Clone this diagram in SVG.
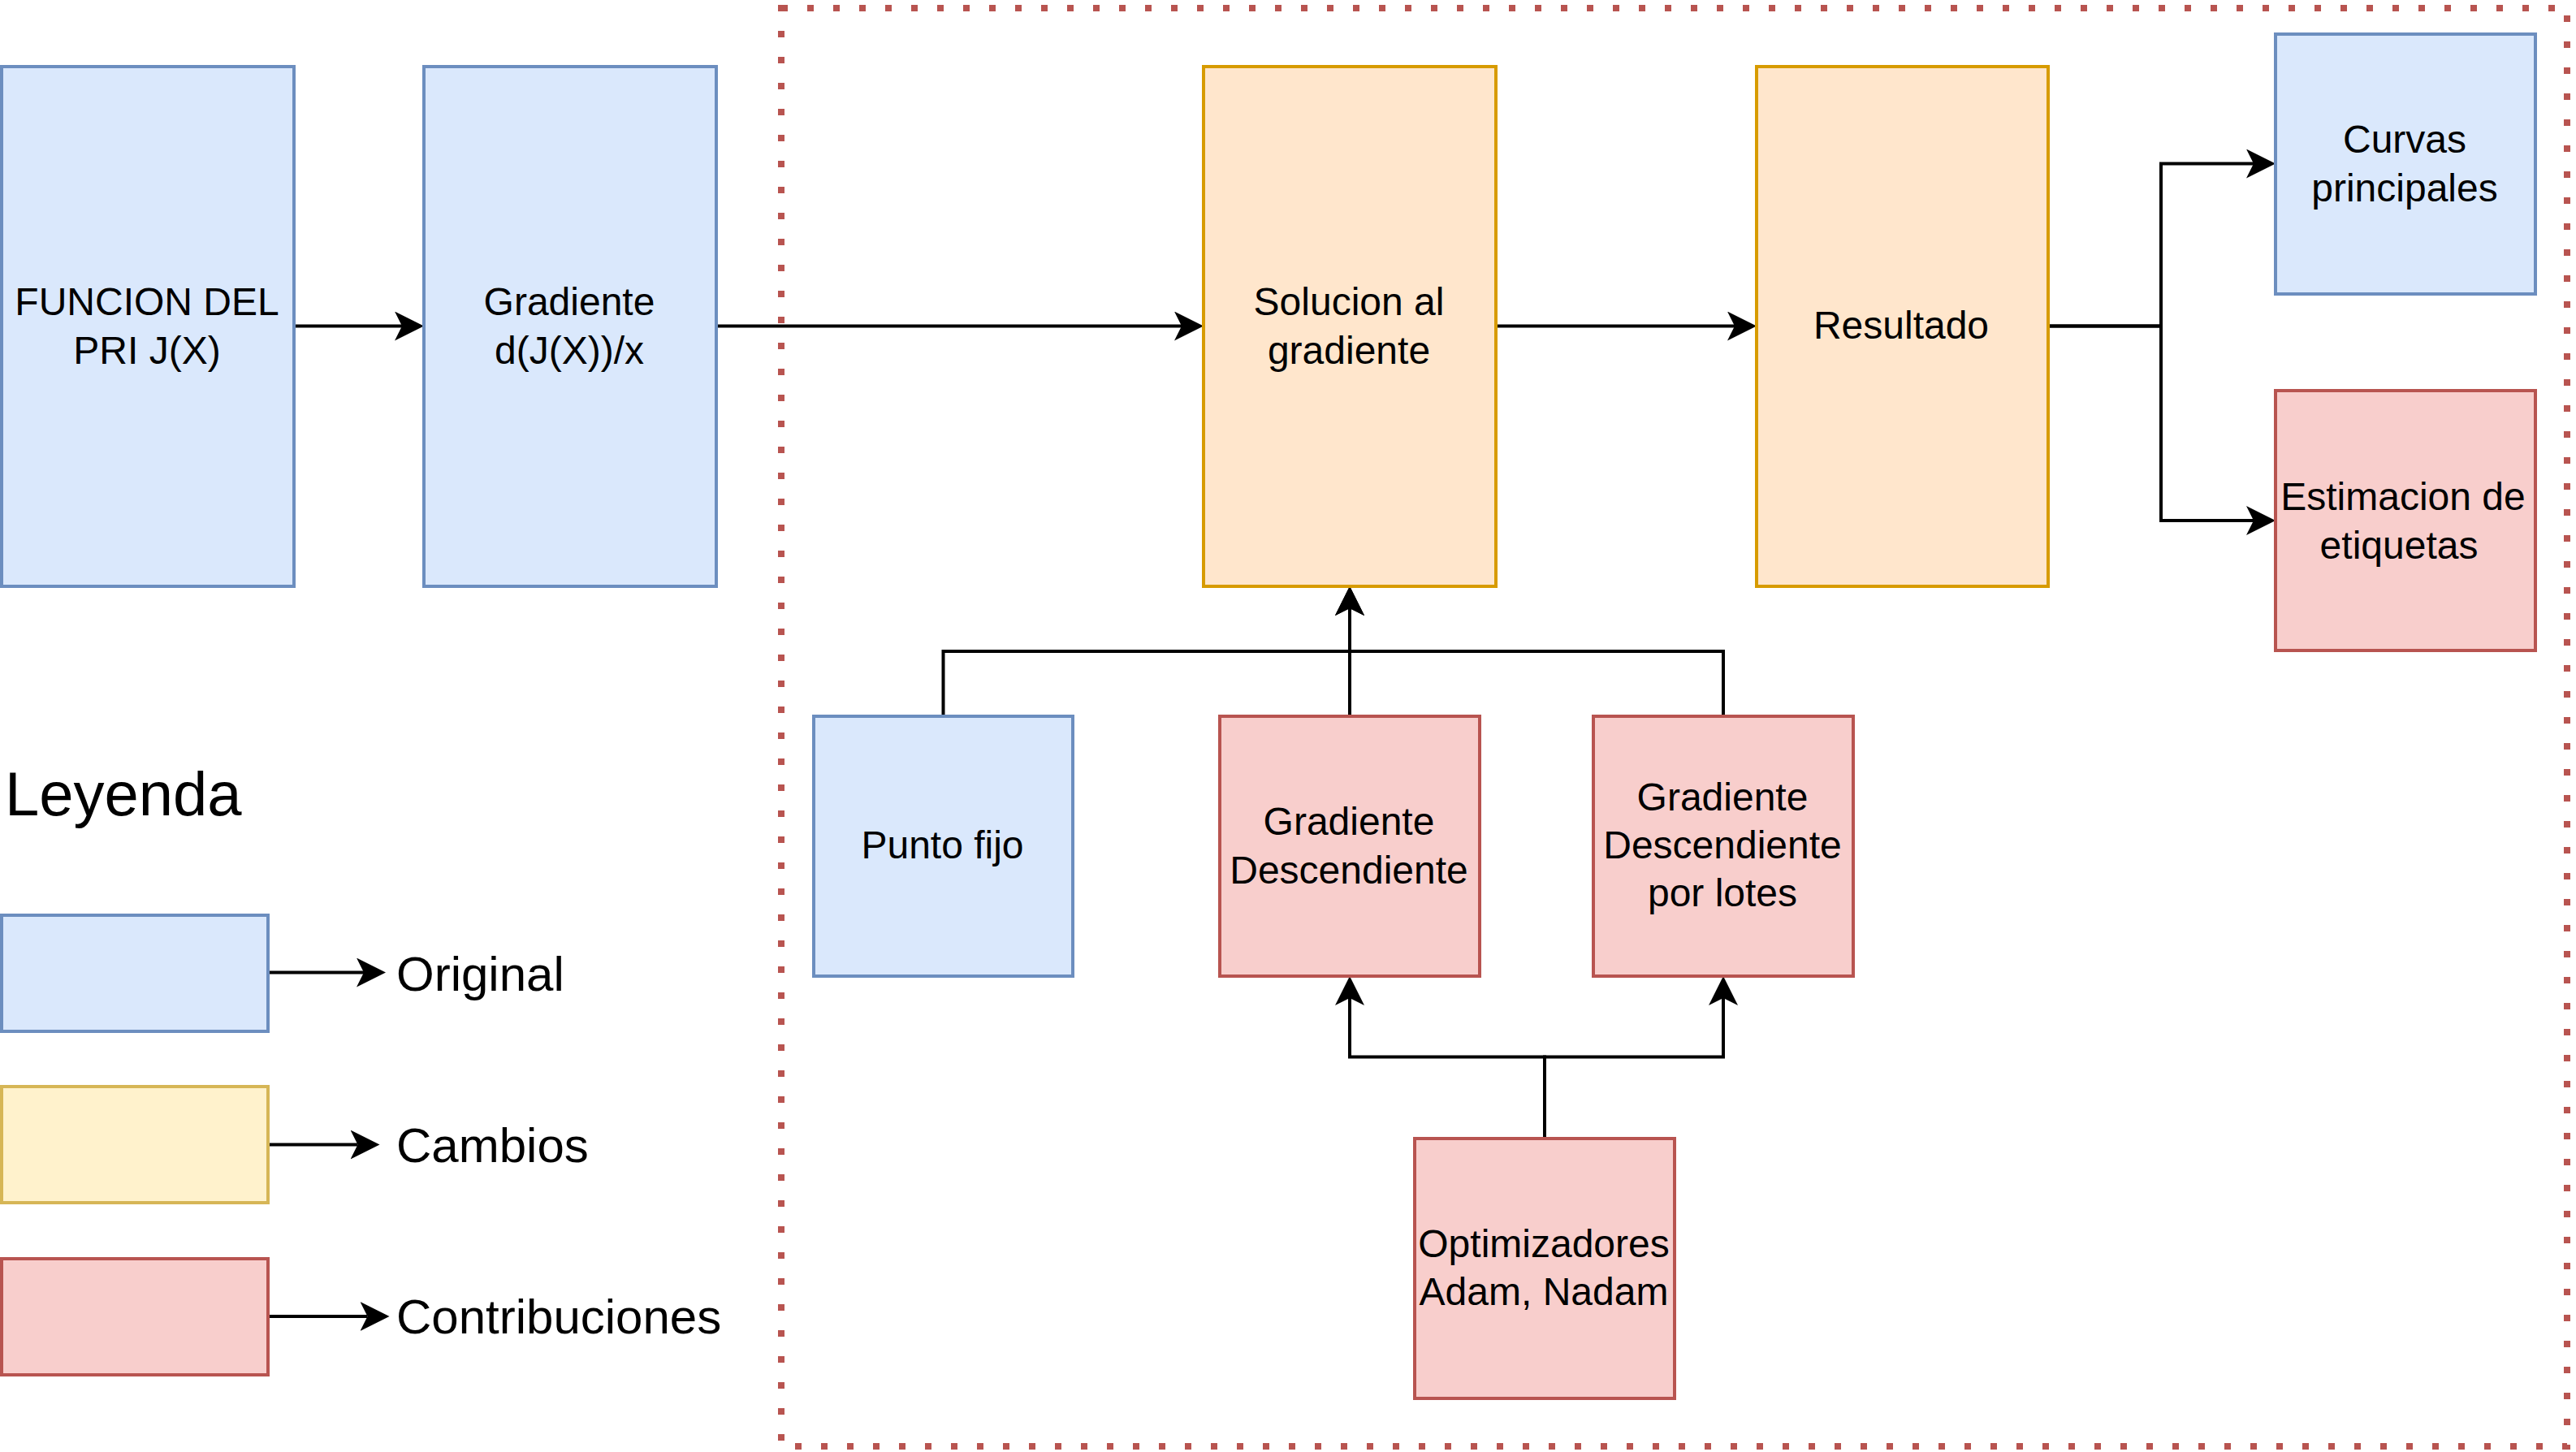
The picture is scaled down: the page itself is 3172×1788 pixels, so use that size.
<svg xmlns="http://www.w3.org/2000/svg" width="3172" height="1788" viewBox="0 0 3172 1788">
  <style>
    .box { stroke-width: 4; }
    .blue { fill: #dae8fc; stroke: #6c8ebf; }
    .orange { fill: #ffe6cc; stroke: #d79b00; }
    .red { fill: #f8cecc; stroke: #b85450; }
    .yellow { fill: #fff2cc; stroke: #d6b656; }
    .lbl { font-family: "Liberation Sans", Arial, Helvetica, sans-serif; font-size: 48px; fill: #000000; text-anchor: middle; }
    .leg { font-family: "Liberation Sans", Arial, Helvetica, sans-serif; font-size: 60px; fill: #000000; }
    .edge { fill: none; stroke: #000000; stroke-width: 4; stroke-linejoin: miter; marker-end: url(#arrow); }
  </style>
  <defs>
    <marker id="arrow" viewBox="0 0 36 36" refX="9" refY="18" markerWidth="36" markerHeight="36" markerUnits="userSpaceOnUse" orient="auto">
      <path d="M0,0 L36,18 L0,36 L9,18 Z" fill="#000000"/>
    </marker>
  </defs>
  <rect width="3172" height="1788" fill="#ffffff"/>

  <g id="frame">
    <rect x="962" y="10" width="2199" height="1771" fill="none" stroke="#b85450" stroke-width="8" stroke-dasharray="8 24"/>
  </g>

  <g id="connectors">
    <path class="edge" d="M362,401.5 H495"/>
    <path class="edge" d="M882,401.5 H1455"/>
    <path class="edge" d="M1842,401.5 H2136"/>
    <path class="edge" d="M2522,401.5 H2661 V201.5 H2775"/>
    <path class="edge" d="M2522,401.5 H2661 V641 H2775"/>
    <path class="edge" d="M1161.5,882 V802 H1662 V749"/>
    <path class="edge" d="M1662,882 V749"/>
    <path class="edge" d="M2122,882 V802 H1662 V749"/>
    <path class="edge" d="M1902,1402 V1301.5 H1662 V1229"/>
    <path class="edge" d="M1902,1402 V1301.5 H2122 V1229"/>
    <path class="edge" d="M330,1197.5 H448"/>
    <path class="edge" d="M330,1409.5 H440.5"/>
    <path class="edge" d="M330,1621 H452.5"/>
  </g>

  <g id="funcion">
    <rect class="box blue" x="2" y="82" width="360" height="640"/>
    <text class="lbl" x="181" y="388">FUNCION DEL</text>
    <text class="lbl" x="181" y="448">PRI J(X)</text>
  </g>
  <g id="gradiente">
    <rect class="box blue" x="522" y="82" width="360" height="640"/>
    <text class="lbl" x="701" y="388">Gradiente</text>
    <text class="lbl" x="701" y="448">d(J(X))/x</text>
  </g>
  <g id="solucion">
    <rect class="box orange" x="1482" y="82" width="360" height="640"/>
    <text class="lbl" x="1661" y="388">Solucion al</text>
    <text class="lbl" x="1661" y="448">gradiente</text>
  </g>
  <g id="resultado">
    <rect class="box orange" x="2163" y="82" width="359" height="640"/>
    <text class="lbl" x="2341" y="417">Resultado</text>
  </g>
  <g id="curvas">
    <rect class="box blue" x="2802" y="42" width="320" height="320"/>
    <text class="lbl" x="2961" y="188">Curvas</text>
    <text class="lbl" x="2961" y="248">principales</text>
  </g>
  <g id="estimacion">
    <rect class="box red" x="2802" y="481" width="320" height="320"/>
    <text class="lbl" x="2959" y="628">Estimacion de</text>
    <text class="lbl" x="2954" y="688">etiquetas</text>
  </g>
  <g id="punto-fijo">
    <rect class="box blue" x="1002" y="882" width="319" height="320"/>
    <text class="lbl" x="1160.5" y="1057">Punto fijo</text>
  </g>
  <g id="gradiente-descendiente">
    <rect class="box red" x="1502" y="882" width="320" height="320"/>
    <text class="lbl" x="1661" y="1028">Gradiente</text>
    <text class="lbl" x="1661" y="1088">Descendiente</text>
  </g>
  <g id="gradiente-lotes">
    <rect class="box red" x="1962" y="882" width="320" height="320"/>
    <text class="lbl" x="2121" y="998">Gradiente</text>
    <text class="lbl" x="2121" y="1057">Descendiente</text>
    <text class="lbl" x="2121" y="1116">por lotes</text>
  </g>
  <g id="optimizadores">
    <rect class="box red" x="1742" y="1402" width="320" height="320"/>
    <text class="lbl" x="1901" y="1548">Optimizadores</text>
    <text class="lbl" x="1901" y="1607">Adam, Nadam</text>
  </g>

  <g id="legend">
    <text x="6" y="1004" font-family="Liberation Sans, Arial, Helvetica, sans-serif" font-size="76">Leyenda</text>
    <g id="legend-original">
      <rect class="box blue" x="2" y="1127" width="328" height="143"/>
      <text class="leg" x="488" y="1220">Original</text>
    </g>
    <g id="legend-cambios">
      <rect class="box yellow" x="2" y="1338" width="328" height="143"/>
      <text class="leg" x="488" y="1431">Cambios</text>
    </g>
    <g id="legend-contribuciones">
      <rect class="box red" x="2" y="1550" width="328" height="143"/>
      <text class="leg" x="488" y="1642">Contribuciones</text>
    </g>
  </g>
</svg>
